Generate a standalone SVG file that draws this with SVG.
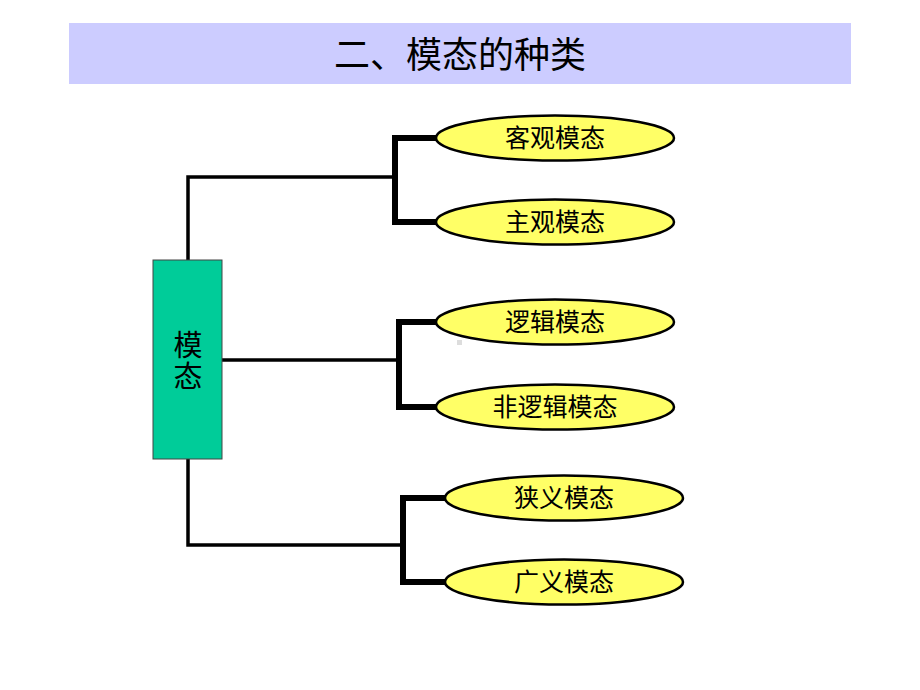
<svg xmlns="http://www.w3.org/2000/svg" width="920" height="690" viewBox="0 0 920 690">
<style>
.t{font-family:"Noto Sans CJK SC","Liberation Sans",sans-serif;fill:#000;text-anchor:middle}
.lb{font-size:25px}
.el{fill:#FFFF66;stroke:#000;stroke-width:2.5}
.thin{fill:none;stroke:#000;stroke-width:3.5}
.thick{fill:none;stroke:#000;stroke-width:6}
</style>
<rect width="920" height="690" fill="#fff"/>
<g id="title">
<rect x="69" y="23" width="782" height="61" fill="#CCCCFF"/>
<text class="t" x="460" y="68" font-size="36">二、模态的种类</text>
</g>
<g id="connectors">
<polyline class="thin" points="188,260 188,177 394,177"/>
<polyline class="thick" points="438,138 395,138 395,222 438,222"/>
<line class="thin" x1="222" y1="360" x2="399" y2="360"/>
<polyline class="thick" points="438,322 399,322 399,407 438,407"/>
<polyline class="thin" points="188,459 188,545 402,545"/>
<polyline class="thick" points="446,498 403,498 403,582 446,582"/>
</g>
<g id="root">
<rect x="153" y="260" width="69" height="199" fill="#00CC99" stroke="#444" stroke-width="1"/>
<text class="t" x="188" y="361" font-size="29" writing-mode="vertical-rl" letter-spacing="2">模态</text>
</g>
<g id="n1"><ellipse class="el" cx="555" cy="138" rx="119" ry="22.5"/><text class="t lb" x="555" y="147">客观模态</text></g>
<g id="n2"><ellipse class="el" cx="555" cy="222" rx="119" ry="22.5"/><text class="t lb" x="555" y="231">主观模态</text></g>
<g id="n3"><ellipse class="el" cx="555" cy="322" rx="119" ry="22.5"/><text class="t lb" x="555" y="331">逻辑模态</text></g>
<g id="n4"><ellipse class="el" cx="555" cy="407" rx="119" ry="22.5"/><text class="t lb" x="555" y="416">非逻辑模态</text></g>
<g id="n5"><ellipse class="el" cx="564" cy="498" rx="119" ry="22.5"/><text class="t lb" x="564" y="507">狭义模态</text></g>
<g id="n6"><ellipse class="el" cx="564" cy="582" rx="119" ry="22.5"/><text class="t lb" x="564" y="591">广义模态</text></g>
<rect x="457" y="340" width="5" height="5" fill="#ddd"/>
</svg>
